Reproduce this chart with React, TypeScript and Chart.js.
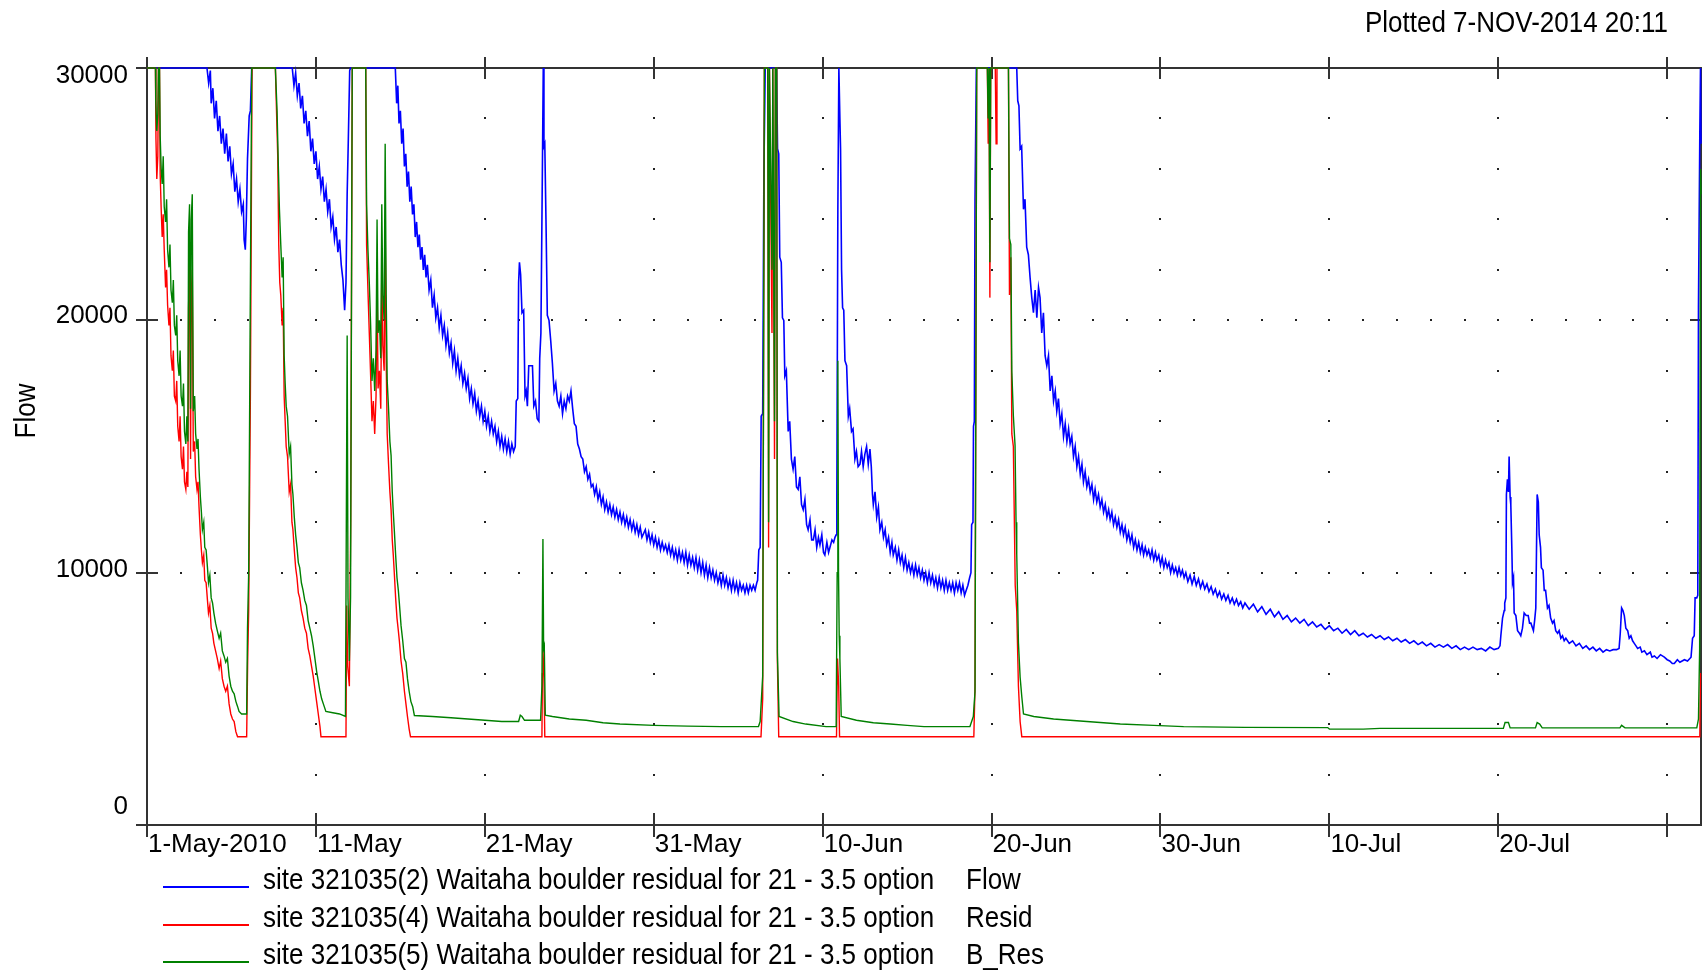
import React, { useEffect, useRef } from 'react';
import { Chart, registerables } from 'chart.js';

Chart.register(...registerables);

// ---------------- data ----------------
// x = days since 1-May-2010 00:00
const X_MIN = 0;
const X_MAX = 92;
const X_TICK_DAYS = [0, 10, 20, 30, 40, 50, 60, 70, 80, 90];
const X_TICK_LABELS = ['1-May-2010', '11-May', '21-May', '31-May', '10-Jun', '20-Jun', '30-Jun', '10-Jul', '20-Jul', ''];
const Y_MIN = 0;
const Y_MAX = 30000;
const Y_TICK_VALUES = [0, 10000, 20000, 30000];
const DOT_ROW_VALUES = [2000, 4000, 6000, 8000, 10000, 12000, 14000, 16000, 18000, 20000, 22000, 24000, 26000, 28000];
const DENSE_DOT_ROW_VALUES = [10000, 20000];
const DENSE_DOT_DAYS = [2, 4, 6, 8, 12, 14, 16, 18, 22, 24, 26, 28, 32, 34, 36, 38, 42, 44, 46, 48, 52, 54, 56, 58, 62, 64, 66, 68, 72, 74, 76, 78, 82, 84, 86, 88];

const PLOT_STAMP = 'Plotted 7-NOV-2014 20:11';
const Y_TITLE = 'Flow';
const SERIES_NAMES = [
  'site 321035(2) Waitaha boulder residual for 21 - 3.5 option',
  'site 321035(4) Waitaha boulder residual for 21 - 3.5 option',
  'site 321035(5) Waitaha boulder residual for 21 - 3.5 option',
];
const SERIES_KINDS = ['Flow', 'Resid', 'B_Res'];
const SERIES_COLORS = ['#0000ff', '#ff0000', '#008000'];

const FLOW: [number, number][] = [
  [0, 30000], [3.55, 30000], [3.65, 29400], [3.75, 29900], [3.8, 28600], [3.9, 29200], [4.0, 28000], [4.1, 28700], [4.2, 27500], [4.3, 28100], [4.4, 27000], [4.5, 27600], [4.6, 26600], [4.7, 27400], [4.8, 26300], [4.9, 26900], [5.0, 25800], [5.1, 26200], [5.2, 25100], [5.3, 25600], [5.4, 24700], [5.5, 25200], [5.6, 24300], [5.7, 24600], [5.75, 23200], [5.82, 22800], [5.88, 24000], [5.95, 26400], [6.05, 28100], [6.12, 28300], [6.2, 30000],
  [8.6, 30000], [8.7, 29300], [8.8, 29800], [8.9, 28900], [9.0, 29400], [9.1, 28400], [9.2, 28900], [9.3, 27800], [9.4, 28300], [9.5, 27300], [9.6, 27900], [9.7, 26700], [9.8, 27200], [9.9, 26200], [10.0, 26700], [10.1, 25600], [10.2, 26100], [10.3, 25200], [10.4, 25700], [10.5, 24700], [10.6, 25200], [10.7, 24300], [10.8, 24800], [10.9, 23700], [11.0, 24100], [11.1, 23200], [11.2, 23700], [11.3, 22700], [11.4, 23200], [11.5, 22200], [11.6, 21600], [11.7, 20400], [11.78, 21500], [11.85, 25000], [11.92, 27200], [12.0, 29900], [12.05, 30000],
  [14.7, 30000], [14.78, 28600], [14.85, 29300], [14.92, 27800], [15.0, 28300], [15.08, 27000], [15.16, 27600], [15.24, 26100], [15.32, 26600], [15.4, 25300], [15.48, 25900], [15.56, 24700], [15.64, 25300], [15.72, 24200], [15.8, 24600], [15.88, 23300], [15.96, 23900], [16.04, 22900], [16.12, 23400], [16.2, 22400], [16.28, 22900], [16.36, 22000], [16.44, 22600], [16.52, 21700], [16.6, 22200], [16.7, 21200], [16.8, 21600], [16.9, 20500], [17.0, 21000], [17.1, 20100], [17.2, 20500], [17.3, 19700], [17.4, 20200], [17.5, 19400], [17.6, 19800], [17.7, 19000], [17.8, 19500], [17.9, 18700], [18.0, 19100], [18.1, 18300], [18.2, 18800], [18.3, 18000], [18.4, 18500], [18.5, 17800], [18.6, 18200], [18.7, 17500], [18.8, 17900], [18.9, 17300], [19.0, 17700], [19.1, 16900], [19.2, 17300], [19.3, 16700], [19.4, 17100], [19.5, 16400], [19.6, 16800], [19.7, 16200], [19.8, 16600], [19.9, 16000], [20.0, 16400], [20.1, 15800], [20.2, 16200], [20.3, 15600], [20.4, 16000], [20.5, 15500], [20.6, 15800], [20.7, 15200], [20.8, 15600], [20.9, 15000], [21.0, 15400], [21.1, 14900], [21.2, 15300], [21.3, 14800], [21.4, 15200], [21.5, 14700], [21.6, 15100], [21.7, 14800],
  [21.8, 15000], [21.86, 16800], [21.95, 16900], [22.0, 21500], [22.05, 22300], [22.12, 21800], [22.2, 20300], [22.3, 20400], [22.38, 17000], [22.45, 17200], [22.52, 16600], [22.6, 18200], [22.7, 18200], [22.82, 18200], [22.9, 16600], [23.0, 16800], [23.1, 16100], [23.2, 16000], [23.25, 18500], [23.32, 19500], [23.4, 25400], [23.46, 30000], [23.5, 26900], [23.55, 27000], [23.62, 24000], [23.7, 20200], [23.8, 20000], [23.9, 19200], [24.0, 18300], [24.1, 17200], [24.2, 17500], [24.3, 16800], [24.4, 16600], [24.5, 17000], [24.6, 16300], [24.7, 16800], [24.8, 16500], [24.9, 17000], [25.0, 16800], [25.1, 17200], [25.2, 16500], [25.3, 15900], [25.4, 15800], [25.5, 15100], [25.6, 14900], [25.7, 14600], [25.8, 14500], [25.9, 14000], [26.0, 14200], [26.1, 13700], [26.2, 13900], [26.3, 13400], [26.4, 13500], [26.5, 13100], [26.6, 13400], [26.7, 12900], [26.8, 13200], [26.9, 12700], [27.0, 13000], [27.1, 12500], [27.2, 12800], [27.3, 12400], [27.4, 12700], [27.5, 12300], [27.6, 12600], [27.7, 12200], [27.8, 12500], [27.9, 12100], [28.0, 12400], [28.1, 12000], [28.2, 12300], [28.3, 11900], [28.4, 12200], [28.5, 11800], [28.6, 12100], [28.7, 11700], [28.8, 12000], [28.9, 11600], [29.0, 11900], [29.1, 11500], [29.2, 11800], [29.3, 11400], [29.5, 11700], [29.6, 11300], [29.7, 11600], [29.8, 11200], [29.9, 11500], [30.0, 11100], [30.1, 11400], [30.2, 11000], [30.3, 11300], [30.4, 10900], [30.5, 11200], [30.6, 10900],
  [30.7, 11100], [30.8, 10800], [30.9, 11100], [31.0, 10700], [31.1, 11000], [31.2, 10600], [31.3, 10900], [31.4, 10500], [31.5, 10900], [31.6, 10500], [31.7, 10800], [31.8, 10400], [31.9, 10800], [32.0, 10300], [32.1, 10700], [32.2, 10300], [32.3, 10600], [32.4, 10200], [32.5, 10600], [32.6, 10100], [32.7, 10500], [32.8, 10000], [32.9, 10400], [33.0, 9900], [33.1, 10300], [33.2, 9800], [33.3, 10200], [33.4, 9800], [33.5, 10100], [33.6, 9700], [33.7, 10000], [33.8, 9600], [33.9, 9900], [34.0, 9500], [34.1, 9900], [34.2, 9500], [34.3, 9800], [34.4, 9400], [34.5, 9700], [34.6, 9300], [34.7, 9700], [34.8, 9300], [34.9, 9600], [35.0, 9200], [35.1, 9600], [35.2, 9300], [35.3, 9500], [35.4, 9200], [35.5, 9500], [35.6, 9200], [35.7, 9500], [35.8, 9300], [35.9, 9500], [36.0, 9300], [36.1, 9600], [36.15, 9700], [36.22, 10900], [36.3, 11000], [36.36, 16200], [36.45, 16300], [36.52, 25800], [36.6, 30000],
  [37.27, 30000], [37.33, 26800], [37.4, 26600], [37.46, 22500], [37.55, 22300], [37.62, 20100], [37.7, 20000], [37.76, 17800], [37.85, 18000], [37.96, 15600], [38.05, 16000], [38.15, 14500], [38.25, 14100], [38.35, 14600], [38.45, 13400], [38.55, 13300], [38.65, 13800], [38.75, 12700], [38.85, 12500], [38.95, 12900], [39.05, 11900], [39.14, 11700], [39.25, 12100], [39.35, 11300], [39.45, 11300], [39.55, 11700], [39.65, 11000], [39.75, 11400], [39.84, 11100], [39.95, 11500], [40.05, 10800], [40.13, 10700], [40.25, 11200], [40.35, 10800], [40.43, 11000], [40.55, 11300], [40.65, 11200], [40.73, 11400], [40.8, 11500], [40.84, 12900], [40.9, 24400], [40.96, 30000], [41.02, 28000], [41.06, 26800], [41.12, 22000], [41.18, 20500], [41.25, 20400], [41.32, 18400], [41.42, 18200], [41.52, 16200], [41.6, 16500], [41.71, 15600], [41.8, 15700], [41.91, 14500], [42.0, 14800], [42.1, 14200], [42.21, 14300], [42.3, 14800], [42.4, 14200], [42.5, 14700], [42.6, 15000], [42.7, 14300], [42.8, 14900], [42.88, 14200], [42.95, 13100], [43.0, 12700], [43.1, 13200], [43.2, 12200], [43.3, 12600], [43.39, 11700], [43.5, 12000], [43.6, 11400], [43.7, 11700], [43.79, 11100], [43.9, 11400], [44.0, 10800], [44.1, 11200], [44.18, 10700], [44.3, 11000], [44.4, 10500], [44.5, 10900], [44.6, 10400], [44.7, 10700], [44.8, 10200], [44.9, 10600], [45.0, 10100], [45.1, 10400], [45.2, 10000], [45.3, 10300], [45.4, 9900], [45.5, 10300], [45.6, 9900], [45.7, 10200], [45.8, 9800], [45.9, 10100], [46.0, 9700], [46.1, 10000], [46.2, 9600], [46.3, 10000], [46.4, 9600], [46.5, 9900], [46.6, 9500], [46.7, 9800], [46.8, 9400], [46.9, 9800], [47.0, 9400], [47.1, 9700], [47.2, 9300], [47.3, 9700], [47.4, 9300], [47.5, 9600], [47.6, 9300], [47.7, 9600], [47.8, 9200], [47.9, 9600], [48.0, 9300], [48.1, 9600], [48.2, 9200], [48.3, 9500], [48.4, 9100], [48.5, 9300], [48.6, 9500], [48.7, 9800], [48.78, 10000], [48.82, 11900], [48.9, 12000], [48.93, 15800], [48.98, 16000], [49.02, 24800], [49.1, 30000],
  [51.49, 30000], [51.55, 28700], [51.62, 28500], [51.69, 26800], [51.78, 26900], [51.89, 24400], [51.98, 24800], [52.08, 22900], [52.18, 22600], [52.28, 21700], [52.38, 20900], [52.48, 20300], [52.58, 21200], [52.68, 20100], [52.78, 21300], [52.87, 20900], [52.97, 19500], [53.07, 20300], [53.17, 18600], [53.27, 18200], [53.37, 18600], [53.47, 17200], [53.57, 17800], [53.67, 16800], [53.77, 17200], [53.86, 16400], [53.96, 16900], [54.06, 15900], [54.16, 16300], [54.26, 15400], [54.36, 15900], [54.46, 15200], [54.56, 15700], [54.65, 15100], [54.75, 15400], [54.85, 14600], [54.95, 15000], [55.05, 14200], [55.15, 14600], [55.25, 13900], [55.35, 14300], [55.44, 13600], [55.54, 14000], [55.64, 13400], [55.74, 13700], [55.84, 13200], [55.94, 13500], [56.04, 12900], [56.13, 13300], [56.23, 12800], [56.33, 13100], [56.43, 12600], [56.53, 12900], [56.63, 12400], [56.73, 12700], [56.83, 12200], [56.93, 12500], [57.02, 12100], [57.12, 12400], [57.22, 11900], [57.32, 12200], [57.42, 11800], [57.52, 12100], [57.62, 11600], [57.72, 11900], [57.81, 11500], [57.91, 11800], [58.01, 11300], [58.11, 11600], [58.21, 11200], [58.31, 11500], [58.41, 11000], [58.51, 11300], [58.61, 10900], [58.71, 11200], [58.81, 10800], [58.91, 11100], [59.0, 10700], [59.1, 11000], [59.2, 10700], [59.3, 10900], [59.4, 10600], [59.5, 10900], [59.6, 10500], [59.7, 10800], [59.79, 10500], [59.9, 10700], [60.0, 10300], [60.1, 10600], [60.2, 10200], [60.3, 10500], [60.4, 10200], [60.5, 10400], [60.6, 10000], [60.7, 10300], [60.8, 10000], [60.9, 10200], [61.0, 9900], [61.1, 10200], [61.2, 9900], [61.3, 10100], [61.4, 9800],
  [61.5, 10000], [61.62, 9650], [61.75, 9900], [61.87, 9550], [62.0, 9850], [62.12, 9500], [62.25, 9750], [62.37, 9400], [62.5, 9650], [62.62, 9350], [62.75, 9550], [62.87, 9250], [63.0, 9450], [63.12, 9150], [63.25, 9350], [63.37, 9050], [63.5, 9250], [63.62, 8950], [63.75, 9150], [63.87, 8900], [64.0, 9100], [64.12, 8800], [64.25, 9000], [64.37, 8750], [64.5, 8950], [64.62, 8700], [64.75, 8850], [64.87, 8600], [65.0, 8800], [65.25, 8550], [65.5, 8750], [65.75, 8450], [66.0, 8650], [66.25, 8350], [66.5, 8550], [66.75, 8250], [67.0, 8450], [67.25, 8150], [67.5, 8300], [67.75, 8050], [68.0, 8200], [68.25, 8000], [68.5, 8150], [68.75, 7900], [69.0, 8050], [69.25, 7850], [69.5, 7950], [69.75, 7750], [70.0, 7900], [70.25, 7700], [70.5, 7800], [70.75, 7600], [71.0, 7750], [71.25, 7550], [71.5, 7700], [71.75, 7500], [72.0, 7600], [72.25, 7450], [72.5, 7550], [72.75, 7400], [73.0, 7500], [73.25, 7350], [73.5, 7450], [73.75, 7300], [74.0, 7400], [74.25, 7250], [74.5, 7350], [74.75, 7200], [75.0, 7300], [75.25, 7150], [75.5, 7250], [75.75, 7100], [76.0, 7200], [76.25, 7050], [76.5, 7150], [76.75, 7050], [77.0, 7150], [77.25, 7000], [77.5, 7100], [77.75, 6950], [78.0, 7050], [78.25, 6950], [78.5, 7050], [78.75, 6950], [79.0, 7000], [79.25, 6900], [79.5, 7050], [79.75, 6950], [80.0, 7000],
  [80.1, 7100], [80.15, 7500], [80.25, 8200], [80.35, 8500], [80.38, 8800], [80.45, 9000], [80.48, 13100], [80.54, 13700], [80.6, 13200], [80.64, 14600], [80.7, 13000], [80.74, 12700], [80.8, 11000], [80.84, 9600], [80.9, 9800], [80.94, 8400], [81.04, 8300], [81.14, 7700], [81.25, 7600], [81.33, 7500], [81.43, 7800], [81.53, 8400], [81.65, 8300], [81.77, 8300], [81.85, 8000], [81.93, 8000], [82.08, 7700], [82.15, 8100], [82.22, 8600], [82.3, 13100], [82.37, 12800], [82.42, 11500], [82.5, 11000], [82.55, 10200], [82.65, 10100], [82.72, 9300], [82.8, 9300], [82.91, 8600], [83.0, 8700], [83.1, 8200], [83.21, 8000], [83.3, 8100], [83.4, 7700], [83.51, 7600], [83.6, 7700], [83.7, 7400], [83.8, 7500], [83.9, 7300], [84.0, 7400], [84.2, 7200], [84.4, 7300], [84.6, 7100], [84.8, 7200], [85.0, 7000], [85.2, 7100], [85.4, 6950], [85.6, 7050], [85.8, 6900], [86.0, 7000], [86.2, 6850], [86.4, 6950], [86.6, 6900], [86.8, 6950], [87.0, 6950], [87.15, 7000], [87.22, 7600], [87.3, 8600], [87.38, 8500], [87.46, 8300], [87.55, 7800], [87.66, 7700], [87.75, 7400], [87.85, 7500], [87.95, 7300], [88.05, 7200], [88.15, 7100], [88.25, 7000], [88.4, 7050], [88.5, 6850], [88.65, 6900], [88.8, 6750], [89.0, 6850], [89.1, 6650], [89.24, 6700], [89.4, 6600], [89.6, 6750], [89.83, 6650], [90.0, 6550], [90.15, 6500], [90.3, 6400], [90.42, 6400], [90.6, 6550], [90.75, 6450], [91.02, 6550], [91.2, 6500], [91.41, 6650], [91.5, 7400], [91.6, 7500], [91.65, 9000], [91.75, 9000], [91.81, 9100], [91.85, 20500], [91.93, 27400], [91.97, 30000], [92.0, 27000],
];

const RESID: [number, number][] = [
  [0, 30000], [0.5, 30000], [0.53, 27200], [0.58, 25600], [0.64, 26500], [0.68, 30000], [0.74, 30000], [0.78, 25800], [0.84, 24400], [0.9, 23300], [0.96, 24200], [1.02, 22800], [1.1, 21300], [1.16, 22000], [1.22, 20600], [1.3, 19800], [1.36, 20500], [1.42, 18600], [1.5, 18000], [1.56, 18800], [1.62, 17000], [1.7, 16800], [1.76, 17600], [1.82, 15800], [1.9, 15200], [1.96, 16200], [2.02, 14600], [2.1, 14100], [2.16, 15000], [2.22, 13600], [2.3, 13300], [2.36, 14000], [2.42, 13400], [2.46, 20500], [2.52, 22500], [2.58, 14500], [2.62, 21000], [2.68, 22000], [2.74, 14800], [2.82, 15200], [2.88, 13800], [2.96, 13300], [3.02, 13600], [3.08, 12600], [3.16, 11500], [3.22, 10900], [3.28, 10400], [3.36, 10700], [3.42, 9700], [3.5, 9600], [3.58, 8900], [3.64, 8400], [3.72, 8700], [3.8, 7800], [3.88, 7600], [3.96, 7200], [4.06, 6900], [4.16, 6600], [4.27, 6200], [4.36, 6500], [4.46, 5800], [4.56, 5500], [4.66, 5300], [4.76, 5500], [4.86, 4800], [4.96, 4400], [5.06, 4200], [5.16, 4100], [5.26, 3700], [5.36, 3500], [5.9, 3500], [5.96, 6500], [6.02, 8500], [6.12, 17000], [6.22, 30000],
  [7.6, 30000], [7.68, 28000], [7.74, 26500], [7.8, 23000], [7.86, 21500], [7.92, 21000], [8.0, 19800], [8.06, 20500], [8.12, 17000], [8.18, 16000], [8.24, 15000], [8.32, 14600], [8.42, 13200], [8.5, 13500], [8.58, 12000], [8.64, 11700], [8.72, 10900], [8.8, 10200], [8.88, 9800], [8.96, 9200], [9.04, 9000], [9.14, 8500], [9.24, 8200], [9.34, 7800], [9.44, 7600], [9.54, 7000], [9.64, 6700], [9.74, 6300], [9.84, 5900], [9.94, 5400], [10.04, 4900], [10.14, 4400], [10.24, 3900], [10.3, 3500], [11.78, 3500], [11.82, 8700], [11.88, 6300], [11.98, 5500], [12.06, 12000], [12.15, 30000],
  [12.95, 30000], [13.0, 23000], [13.08, 21200], [13.16, 19500], [13.24, 17800], [13.32, 16000], [13.4, 16800], [13.48, 15500], [13.56, 17000], [13.62, 21500], [13.68, 17300], [13.76, 18000], [13.84, 16500], [13.9, 22000], [13.96, 19000], [14.04, 18000], [14.1, 24000], [14.16, 18500], [14.22, 15500], [14.3, 14300], [14.38, 13200], [14.45, 12500], [14.52, 11300], [14.58, 10700], [14.64, 10000], [14.72, 9000], [14.8, 8200], [14.88, 7700], [14.94, 7300], [15.04, 6500], [15.14, 6000], [15.24, 5300], [15.33, 4800], [15.42, 4300], [15.52, 3800], [15.6, 3500],
  [23.38, 3500], [23.41, 6000], [23.44, 7000], [23.5, 5800], [23.55, 3500],
  [36.35, 3500], [36.45, 5000], [36.55, 30000], [36.75, 30000], [36.8, 11000], [36.85, 30000], [37.0, 19500], [37.05, 30000], [37.15, 14500], [37.2, 30000], [37.28, 30000], [37.32, 6500], [37.4, 3500],
  [40.82, 3500], [40.88, 6600], [40.95, 5500], [41.0, 3500],
  [48.95, 3500], [49.02, 5500], [49.12, 30000], [49.75, 30000], [49.8, 27000], [49.85, 30000], [49.9, 20900], [49.95, 30000], [50.22, 30000], [50.27, 27000], [50.32, 30000], [51.0, 30000], [51.06, 21000], [51.14, 22500], [51.2, 15500], [51.29, 15000], [51.4, 9500], [51.49, 8500], [51.59, 5500], [51.69, 4100], [51.79, 3500],
  [91.93, 3500], [91.97, 6000], [92.0, 6000],
];

const B_RES: [number, number][] = [
  [0, 30000], [0.5, 30000], [0.52, 28700], [0.58, 27500], [0.64, 28200], [0.68, 30000], [0.74, 30000], [0.78, 27300], [0.84, 26000], [0.9, 25400], [0.96, 26500], [1.02, 24500], [1.1, 23900], [1.16, 24800], [1.22, 22800], [1.3, 22100], [1.36, 23000], [1.42, 21200], [1.5, 20700], [1.56, 21600], [1.62, 19800], [1.7, 19400], [1.76, 20200], [1.82, 18400], [1.9, 17800], [1.96, 18800], [2.02, 17000], [2.1, 16600], [2.16, 17500], [2.22, 15600], [2.3, 15100], [2.36, 16200], [2.42, 15200], [2.46, 23500], [2.52, 24600], [2.58, 16500], [2.62, 24000], [2.68, 25000], [2.74, 16400], [2.82, 17000], [2.88, 15500], [2.96, 14900], [3.02, 15300], [3.08, 14100], [3.16, 13000], [3.22, 12400], [3.28, 11700], [3.36, 12000], [3.42, 11000], [3.5, 10900], [3.58, 10200], [3.64, 9600], [3.72, 9900], [3.8, 9000], [3.88, 8800], [3.96, 8400], [4.06, 8000], [4.16, 7700], [4.27, 7400], [4.36, 7600], [4.46, 6900], [4.56, 6700], [4.66, 6450], [4.76, 6600], [4.86, 5900], [4.96, 5500], [5.06, 5300], [5.16, 5200], [5.26, 4900], [5.36, 4700], [5.45, 4500], [5.6, 4400], [5.9, 4400], [5.95, 7800], [6.02, 10000], [6.1, 19100], [6.2, 30000],
  [7.6, 30000], [7.7, 28300], [7.78, 26000], [7.84, 24400], [7.92, 23000], [8.0, 21700], [8.06, 22500], [8.12, 18600], [8.18, 17500], [8.24, 16600], [8.32, 16200], [8.42, 14700], [8.5, 15000], [8.58, 13500], [8.64, 13100], [8.72, 12200], [8.8, 11500], [8.88, 11000], [8.96, 10400], [9.04, 10200], [9.14, 9600], [9.24, 9300], [9.34, 8900], [9.44, 8700], [9.54, 8100], [9.64, 7800], [9.74, 7500], [9.84, 7100], [9.94, 6600], [10.04, 6100], [10.14, 5700], [10.24, 5300], [10.34, 5000], [10.44, 4800], [10.59, 4500], [11.0, 4450], [11.4, 4400], [11.75, 4300], [11.8, 12000], [11.85, 19400], [11.9, 9000], [11.98, 6500], [12.05, 9000], [12.15, 30000],
  [12.95, 30000], [13.0, 24600], [13.08, 22800], [13.16, 21500], [13.24, 19800], [13.32, 17600], [13.4, 18500], [13.48, 17200], [13.56, 18800], [13.62, 24000], [13.68, 19500], [13.76, 20000], [13.84, 18500], [13.9, 24600], [13.96, 21000], [14.04, 20000], [14.1, 27000], [14.16, 21000], [14.22, 17600], [14.3, 16500], [14.38, 15200], [14.45, 14650], [14.52, 13200], [14.58, 12400], [14.64, 11700], [14.72, 10700], [14.8, 9800], [14.88, 9300], [14.94, 8800], [15.04, 7900], [15.14, 7300], [15.24, 6600], [15.33, 6450], [15.42, 5800], [15.52, 5300], [15.62, 4900], [15.73, 4690], [15.83, 4340],
  [16.9, 4300], [18.0, 4250], [19.0, 4200], [20.0, 4150], [21.0, 4100], [22.0, 4100], [22.1, 4350], [22.2, 4300], [22.35, 4150], [23.3, 4150], [23.38, 5500], [23.44, 11330], [23.48, 7000], [23.52, 7100], [23.58, 4350], [24.0, 4300], [25.0, 4200], [26.0, 4150], [27.0, 4050], [28.0, 4000], [30.0, 3950], [32.0, 3920], [34.0, 3900], [36.2, 3900], [36.3, 4100], [36.45, 5900],
  [36.55, 30000], [36.75, 30000], [36.8, 12000], [36.85, 30000], [37.0, 22000], [37.05, 30000], [37.15, 16000], [37.2, 30000], [37.28, 30000], [37.32, 6840], [37.42, 4300], [38.25, 4100], [39.0, 4000], [40.2, 3900], [40.8, 3900], [40.86, 10000], [40.9, 18400], [40.94, 10000], [40.98, 7500], [41.02, 6600], [41.1, 4300], [42.0, 4150], [43.0, 4050], [44.0, 4000], [45.0, 3950], [46.0, 3900], [48.72, 3900], [48.82, 4100], [48.92, 4300], [49.02, 5280],
  [49.12, 30000], [49.75, 30000], [49.8, 28000], [49.85, 30000], [49.9, 22300], [49.95, 30000], [51.0, 30000], [51.06, 23250], [51.14, 23000], [51.2, 17980], [51.29, 16220], [51.39, 15050], [51.45, 12000], [51.49, 10750], [51.59, 7230], [51.69, 5860], [51.79, 5080], [51.89, 4400], [52.5, 4300], [53.67, 4200], [55.64, 4100], [57.62, 4000], [59.6, 3950], [61.37, 3900], [65.0, 3870], [69.9, 3860], [70.0, 3800], [72.0, 3800], [73.0, 3830], [80.3, 3830], [80.4, 4060], [80.6, 4060], [80.7, 3850], [82.2, 3850], [82.3, 4060], [82.45, 4000], [82.6, 3850], [87.2, 3850], [87.3, 3950], [87.5, 3850], [91.75, 3850], [91.85, 4200], [91.92, 7000], [91.97, 26000], [92.0, 25000],
];

// ---------------- styling ----------------
const FONT_FAMILY = '"Liberation Sans", Arial, Helvetica, sans-serif';
const FONT_SIZE = 26;
const TEXT_STRETCH_Y = 1.15; // the original lettering is taller than Arial at the same width
const AXIS_COLOR = '#333333';
const DOT_COLOR = '#222222';
// vertical nudges (px) of the y tick labels relative to their ticks, as in the original plot
const Y_LABEL_NUDGE = [-18, -3, -5, 8];

const toXY = (arr: [number, number][]) => arr.map(([x, y]) => ({ x, y }));

function stretchedText(ctx: CanvasRenderingContext2D, text: string, x: number, y: number) {
  ctx.save();
  ctx.translate(x, y);
  ctx.scale(1, TEXT_STRETCH_Y);
  ctx.fillText(text, 0, 0);
  ctx.restore();
}

const hecPlugin = {
  id: 'hecFrame',
  beforeDatasetsDraw(chart: any) {
    const { ctx, chartArea } = chart;
    const { left, right, top, bottom } = chartArea;
    const xs = chart.scales.x;
    const ys = chart.scales.y;
    ctx.save();
    ctx.fillStyle = DOT_COLOR;
    for (const v of DOT_ROW_VALUES) {
      const py = Math.round(ys.getPixelForValue(v));
      for (const d of X_TICK_DAYS) {
        if (d === X_MIN) continue;
        const px = Math.round(xs.getPixelForValue(d));
        ctx.fillRect(px - 1, py - 1, 2, 2);
      }
    }
    for (const v of DENSE_DOT_ROW_VALUES) {
      const py = Math.round(ys.getPixelForValue(v));
      for (const d of DENSE_DOT_DAYS) {
        const px = Math.round(xs.getPixelForValue(d));
        ctx.fillRect(px - 1, py - 1, 2, 2);
      }
    }
    ctx.strokeStyle = AXIS_COLOR;
    ctx.lineWidth = 2;
    ctx.beginPath();
    ctx.moveTo(left - 11, top); ctx.lineTo(right, top);
    ctx.moveTo(left - 11, bottom); ctx.lineTo(right, bottom);
    ctx.moveTo(left, top); ctx.lineTo(left, bottom);
    ctx.moveTo(right, top); ctx.lineTo(right, bottom);
    for (const d of X_TICK_DAYS) {
      const px = Math.round(xs.getPixelForValue(d));
      ctx.moveTo(px, bottom - 12); ctx.lineTo(px, bottom + 12);
      ctx.moveTo(px, top - 11); ctx.lineTo(px, top + 11);
    }
    for (const v of Y_TICK_VALUES) {
      const py = Math.round(ys.getPixelForValue(v));
      ctx.moveTo(left - 11, py); ctx.lineTo(left + 11, py);
      ctx.moveTo(right - 11, py); ctx.lineTo(right + 11, py);
    }
    ctx.stroke();
    ctx.restore();
  },
  afterDraw(chart: any) {
    const { ctx } = chart;
    ctx.save();
    ctx.fillStyle = '#000';
    ctx.font = `${FONT_SIZE}px ${FONT_FAMILY}`;
    ctx.textBaseline = 'alphabetic';
    ctx.textAlign = 'right';
    stretchedText(ctx, PLOT_STAMP, 1668, 32);

    ctx.save();
    ctx.translate(27, 411);
    ctx.rotate(-Math.PI / 2);
    ctx.textAlign = 'center';
    ctx.textBaseline = 'middle';
    ctx.scale(1, TEXT_STRETCH_Y);
    ctx.fillText(Y_TITLE, 0, 0);
    ctx.restore();

    SERIES_NAMES.forEach((name, i) => {
      const ly = Math.round(887 + i * 37.5);
      ctx.strokeStyle = SERIES_COLORS[i];
      ctx.lineWidth = 2;
      ctx.beginPath();
      ctx.moveTo(163, ly);
      ctx.lineTo(249, ly);
      ctx.stroke();
      ctx.textAlign = 'left';
      stretchedText(ctx, name, 263, ly + 2);
      stretchedText(ctx, SERIES_KINDS[i], 966, ly + 2);
    });
    ctx.restore();
  },
};

export default function App() {
  const canvasRef = useRef<HTMLCanvasElement>(null);

  useEffect(() => {
    if (!canvasRef.current) return;
    Chart.defaults.font.family = FONT_FAMILY;
    const size = FONT_SIZE;
    const family = FONT_FAMILY;

    const chart = new Chart(canvasRef.current, {
      type: 'line',
      data: {
        datasets: [
          { label: SERIES_NAMES[0] + ' ' + SERIES_KINDS[0], data: toXY(FLOW), borderColor: SERIES_COLORS[0], borderWidth: 1.6, pointRadius: 0, order: 2, clip: false, tension: 0 },
          { label: SERIES_NAMES[1] + ' ' + SERIES_KINDS[1], data: toXY(RESID), borderColor: SERIES_COLORS[1], borderWidth: 1.4, pointRadius: 0, order: 1, clip: false, tension: 0 },
          { label: SERIES_NAMES[2] + ' ' + SERIES_KINDS[2], data: toXY(B_RES), borderColor: SERIES_COLORS[2], borderWidth: 1.4, pointRadius: 0, order: 0, clip: false, tension: 0 },
        ],
      },
      options: {
        animation: false,
        responsive: false,
        events: [],
        layout: { padding: { left: 0, top: 68, right: 1, bottom: 106 } },
        plugins: { legend: { display: false }, title: { display: false }, tooltip: { enabled: false } },
        scales: {
          x: {
            type: 'linear',
            min: X_MIN,
            max: X_MAX,
            afterBuildTicks: (s: any) => { s.ticks = X_TICK_DAYS.map((v) => ({ value: v })); },
            afterFit: (s: any) => { s.height = 40; },
            grid: { display: false },
            border: { display: false },
            ticks: {
              align: 'start',
              padding: Math.round(12 - 0.6 * size),
              labelOffset: 1,
              autoSkip: false,
              maxRotation: 0,
              color: '#000',
              font: { size, family, lineHeight: 1.2 },
              callback: (_v: any, i: number) => X_TICK_LABELS[i],
            },
          },
          y: {
            type: 'linear',
            min: Y_MIN,
            max: Y_MAX,
            afterBuildTicks: (s: any) => { s.ticks = Y_TICK_VALUES.map((v) => ({ value: v })); },
            afterFit: (s: any) => { s.width = 147; },
            grid: { display: false },
            border: { display: false },
            ticks: {
              padding: 11,
              color: '#000',
              font: (ctx: any) => ({ size, family, lineHeight: `${Math.max(1, Math.abs(Y_LABEL_NUDGE[ctx.index] ?? 0) * 2)}px` }),
              callback: (v: any, i: number) => ((Y_LABEL_NUDGE[i] ?? 0) > 0 ? ['', String(v)] : [String(v), '']),
            },
          },
        },
      } as any,
      plugins: [hecPlugin],
    });
    return () => chart.destroy();
  }, []);

  return (
    <div style={{ position: 'absolute', left: 0, top: 0, width: 1702, height: 971, background: '#fff' }}>
      <canvas ref={canvasRef} width={1702} height={971} style={{ display: 'block' }} />
    </div>
  );
}
